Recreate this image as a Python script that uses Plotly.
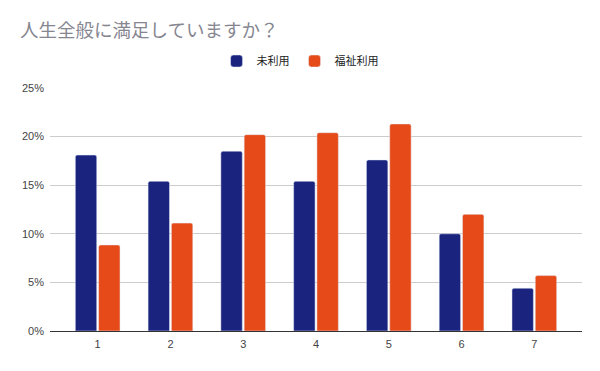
import plotly.graph_objects as go

categories = ["1", "2", "3", "4", "5", "6", "7"]
series_names = ["未利用", "福祉利用"]
unused = [18.1, 15.4, 18.5, 15.4, 17.6, 10.0, 4.4]
welfare = [8.85, 11.1, 20.2, 20.4, 21.3, 12.0, 5.7]
y_ticks = [0, 5, 10, 15, 20, 25]
y_tick_labels = ["0%", "5%", "10%", "15%", "20%", "25%"]

FONT = "Liberation Sans, Arial, Noto Sans CJK JP, sans-serif"

fig = go.Figure()
fig.add_trace(go.Bar(x=categories, y=unused, name=series_names[0], marker_color="#1a237e"))
fig.add_trace(go.Bar(x=categories, y=welfare, name=series_names[1], marker_color="#e64a19"))

fig.update_layout(
    width=600, height=371,
    margin=dict(l=50, r=18, t=88, b=40),
    paper_bgcolor="white", plot_bgcolor="white",
    font=dict(family=FONT, size=11, color="#444444"),
    title=dict(text="人生全般に満足していますか？", x=20/600, xref="container", xanchor="left",
               y=1-31/371, yref="container", yanchor="middle",
               font=dict(family=FONT, size=18.5, color="#868690")),
    barmode="group", bargap=0.36, bargroupgap=0.08, barcornerradius=2,
    legend=dict(orientation="h", x=0.47, xanchor="center", y=1.111, yanchor="middle",
                font=dict(size=11, color="#222222"), itemwidth=30),
    xaxis=dict(type="category", range=[-0.655, 6.655], showline=True, linecolor="#333333",
               linewidth=1, ticks="", showgrid=False, tickfont=dict(size=11, color="#444444"),
               ticklabelstandoff=3),
    yaxis=dict(range=[0, 25], tickvals=y_ticks, ticktext=y_tick_labels, showgrid=True,
               gridcolor="#cccccc", zeroline=False, showline=False, ticks="",
               tickfont=dict(size=11, color="#444444"), ticklabelstandoff=5),
)

fig.write_html("out.html", config={"displayModeBar": False},
               post_script="document.body.style.margin='0';")
